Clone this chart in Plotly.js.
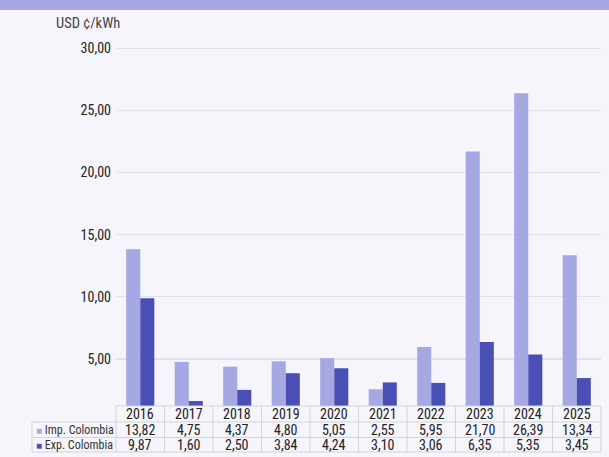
<!DOCTYPE html>
<html>
<head>
<meta charset="utf-8">
<script src="https://cdn.plot.ly/plotly-3.0.1.min.js"></script>
<style>
html,body{margin:0;padding:0;background:#f5f5fb;}
#wrap{position:relative;width:609px;height:457px;}
#band{position:absolute;left:0;top:0;width:609px;height:10px;background:#a5a8e2;z-index:5;}
#chart{position:absolute;left:0;top:0;width:609px;height:457px;}
</style>
</head>
<body>
<div id="wrap"><div id="chart"></div><div id="band"></div></div>
<script>
const years = ['2016','2017','2018','2019','2020','2021','2022','2023','2024','2025'];
const impColombia = [13.82,4.75,4.37,4.80,5.05,2.55,5.95,21.70,26.39,13.34];
const expColombia = [9.87,1.60,2.50,3.84,4.24,3.10,3.06,6.35,5.35,3.45];
const seriesNames = ['Imp. Colombia','Exp. Colombia'];
const colors = ['#a5a8e2','#4a4fb5'];
const yTitle = 'USD ¢/kWh';

const W = 609, H = 457;
const mL = 116, mR = 8, mT = 36, mB = 50.5;
const plotW = W - mL - mR, plotH = H - mT - mB;
const py = d => -d / plotH;           // pixels below plot bottom -> paper y
const px = d => d / plotW;            // pixels -> paper x
const FONT = 'Roboto Condensed, Roboto, sans-serif';
const fmt = v => v.toFixed(2).replace('.', ',');
const lineC = '#d3d3dc';

const traces = [
  {type:'bar', x:years, y:impColombia, name:seriesNames[0], marker:{color:colors[0]}},
  {type:'bar', x:years, y:expColombia, name:seriesNames[1], marker:{color:colors[1]}}
];

const shapes = [];
const ann = [];
const n = years.length;
const rowLines = [0, 16, 31.5, 46];
const labelLeft = -px(84);
shapes.push({type:'line', xref:'paper', yref:'paper', x0:0, x1:1, y0:py(rowLines[0]), y1:py(rowLines[0]), line:{color:lineC, width:1}});
for (let k = 1; k < rowLines.length; k++) {
  shapes.push({type:'line', xref:'paper', yref:'paper', x0:labelLeft, x1:1, y0:py(rowLines[k]), y1:py(rowLines[k]), line:{color:lineC, width:1}});
}
for (let i = 0; i <= n; i++) {
  shapes.push({type:'line', xref:'paper', yref:'paper', x0:i/n, x1:i/n, y0:py(0), y1:py(46), line:{color:lineC, width:1}});
}
shapes.push({type:'line', xref:'paper', yref:'paper', x0:labelLeft, x1:labelLeft, y0:py(16), y1:py(46), line:{color:lineC, width:1}});

const cellFont = {family:FONT, size:14, color:'#222'};
const rowCenters = [8, 24, 39];
years.forEach((yr, i) => {
  const xp = (i + 0.5) / n;
  const base = {xref:'paper', yref:'paper', x:xp, showarrow:false, font:cellFont, xanchor:'center', yanchor:'middle'};
  ann.push(Object.assign({}, base, {y:py(rowCenters[0]), text:yr}));
  ann.push(Object.assign({}, base, {y:py(rowCenters[1]), text:fmt(impColombia[i])}));
  ann.push(Object.assign({}, base, {y:py(rowCenters[2]), text:fmt(expColombia[i])}));
});
[1,2].forEach((r, k) => {
  ann.push({xref:'paper', yref:'paper', x:labelLeft + px(2), y:py(rowCenters[r]), xanchor:'left', yanchor:'middle',
    text:'<span style="color:' + colors[k] + ';font-size:10px">■</span> ' + seriesNames[k], showarrow:false,
    font:{family:FONT, size:12, color:'#333'}});
});
ann.push({xref:'paper', yref:'paper', x:-px(mL - 54), y:1 + (mT - 23) / plotH, xanchor:'left', yanchor:'middle',
  text:yTitle, showarrow:false, font:{family:FONT, size:14.5, color:'#444'}});

const layout = {
  width:W, height:H,
  margin:{l:mL, r:mR, t:mT, b:mB, pad:0},
  paper_bgcolor:'#f5f5fb', plot_bgcolor:'#f5f5fb',
  barmode:'group', bargap:0.42, bargroupgap:0,
  showlegend:false,
  separators:',.',
  font:{family:FONT},
  xaxis:{type:'category', range:[-0.5, n-0.5], showticklabels:false, showgrid:false, zeroline:false, showline:false, ticks:''},
  yaxis:{range:[1.2, 31], tickvals:[5,10,15,20,25,30], tickformat:'.2f', showgrid:true, gridcolor:'#e1e1e9', gridwidth:1.5,
    zeroline:false, showline:false, ticks:'', ticklabelstandoff:4, tickfont:{family:FONT, size:14, color:'#222'}},
  shapes:shapes,
  annotations:ann
};
Plotly.newPlot('chart', traces, layout, {displayModeBar:false, staticPlot:true});
</script>
</body>
</html>
